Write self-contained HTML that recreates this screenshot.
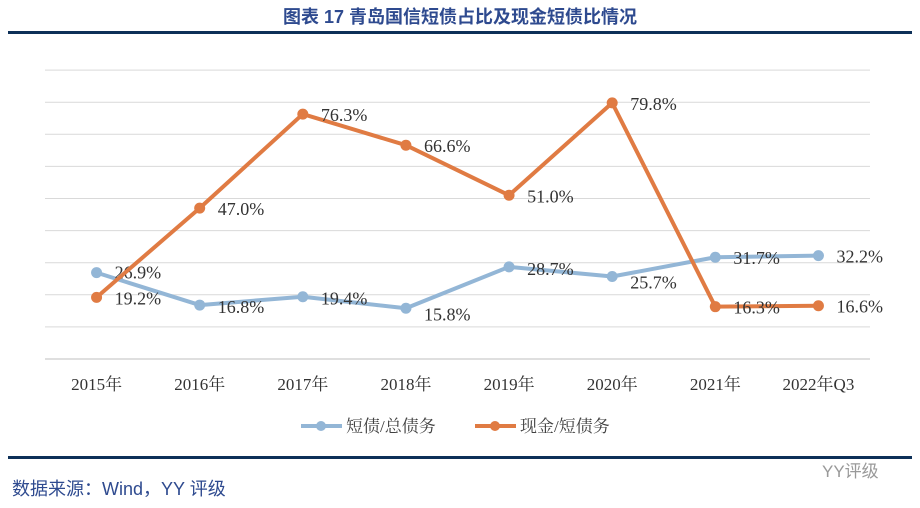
<!DOCTYPE html>
<html><head><meta charset="utf-8">
<style>
body{margin:0;background:#fff;width:920px;height:508px;overflow:hidden;}
svg{display:block;}
</style></head>
<body>
<svg id="chart" width="920" height="508" xmlns="http://www.w3.org/2000/svg">
<text x="460" y="23" text-anchor="middle" font-family="'Liberation Sans','Noto Sans CJK SC',sans-serif" font-size="18" font-weight="bold" fill="#2e4a8f">图表 17 青岛国信短债占比及现金短债比情况</text>
<rect x="8" y="31" width="904" height="3" fill="#0d3058"/>
<g id="grid"></g>
<g id="xlabels"></g>
<g id="series"></g>
<g>
<g>
<line x1="301" y1="426" x2="342" y2="426" stroke="#93b6d6" stroke-width="4"/>
<circle cx="321" cy="426" r="5" fill="#93b6d6"/>
<text x="346" y="432" font-family="'Liberation Serif','Noto Serif CJK SC',serif" font-size="17" fill="#404040">短债/总债务</text>
</g>
<g>
<line x1="475" y1="426" x2="516" y2="426" stroke="#e07b43" stroke-width="4"/>
<circle cx="495" cy="426" r="5" fill="#e07b43"/>
<text x="520" y="432" font-family="'Liberation Serif','Noto Serif CJK SC',serif" font-size="17" fill="#404040">现金/短债务</text>
</g>
</g>
<rect x="8" y="456" width="904" height="3" fill="#0d3058"/>
<text x="12" y="495" font-family="'Liberation Sans','Noto Sans CJK SC',sans-serif" font-size="18" fill="#2e4a8f">数据来源：Wind，YY 评级</text>
<text x="822" y="477" font-family="'Liberation Sans','Noto Sans CJK SC',sans-serif" font-size="17" fill="#999">YY评级</text>
</svg>
<script>
const categories=["2015年","2016年","2017年","2018年","2019年","2020年","2021年","2022年Q3"];
const shortDebtRatio=[26.9,16.8,19.4,15.8,28.7,25.7,31.7,32.2];
const cashRatio=[19.2,47.0,76.3,66.6,51.0,79.8,16.3,16.6];
const yTicks=[0,10,20,30,40,50,60,70,80,90];
const NS="http://www.w3.org/2000/svg";
const x0=45,x1=870,yBase=359,pxPer=3.21;
const xs=i=>x0+(i+0.5)*(x1-x0)/categories.length;
const ys=v=>yBase-v*pxPer;
function mk(tag,attrs,parent){const e=document.createElementNS(NS,tag);for(const k in attrs)e.setAttribute(k,attrs[k]);parent.appendChild(e);return e;}
const grid=document.getElementById('grid');
yTicks.forEach(t=>{
 const l=mk('line',{x1:x0,x2:x1,y1:ys(t),y2:ys(t),stroke:t===0?'#bfbfbf':'#d9d9d9','stroke-width':1},grid);
 
 
});
const xl=document.getElementById('xlabels');
categories.forEach((c,i)=>{
 const t=mk('text',{x:xs(i),y:390,'text-anchor':'middle','font-family':"'Liberation Serif','Noto Serif CJK SC',serif",'font-size':17,fill:'#333'},xl);
 t.textContent=c;
 
 
});
const sg=document.getElementById('series');
function series(vals,color,name,offs){
 const g=mk('g',{},sg);
 
 
 mk('polyline',{points:vals.map((v,i)=>xs(i)+','+ys(v)).join(' '),fill:'none',stroke:color,'stroke-width':4,'stroke-linejoin':'round'},g);
 vals.forEach((v,i)=>{
  const c=mk('circle',{cx:xs(i),cy:ys(v),r:5.5,fill:color},g);
  
  
  const t=mk('text',{x:xs(i)+18,y:ys(v)+offs(i),'font-family':"'Liberation Serif',serif",'font-size':18,fill:'#333'},g);
  t.textContent=v.toFixed(1)+'%';
  
  
 });
}
series(shortDebtRatio,'#93b6d6','series-short-debt-ratio',i=>i===0?6:(i>=6?7:(i===3||i===5)?12:8));
series(cashRatio,'#e07b43','series-cash-ratio',i=>7);
</script>
</body></html>
